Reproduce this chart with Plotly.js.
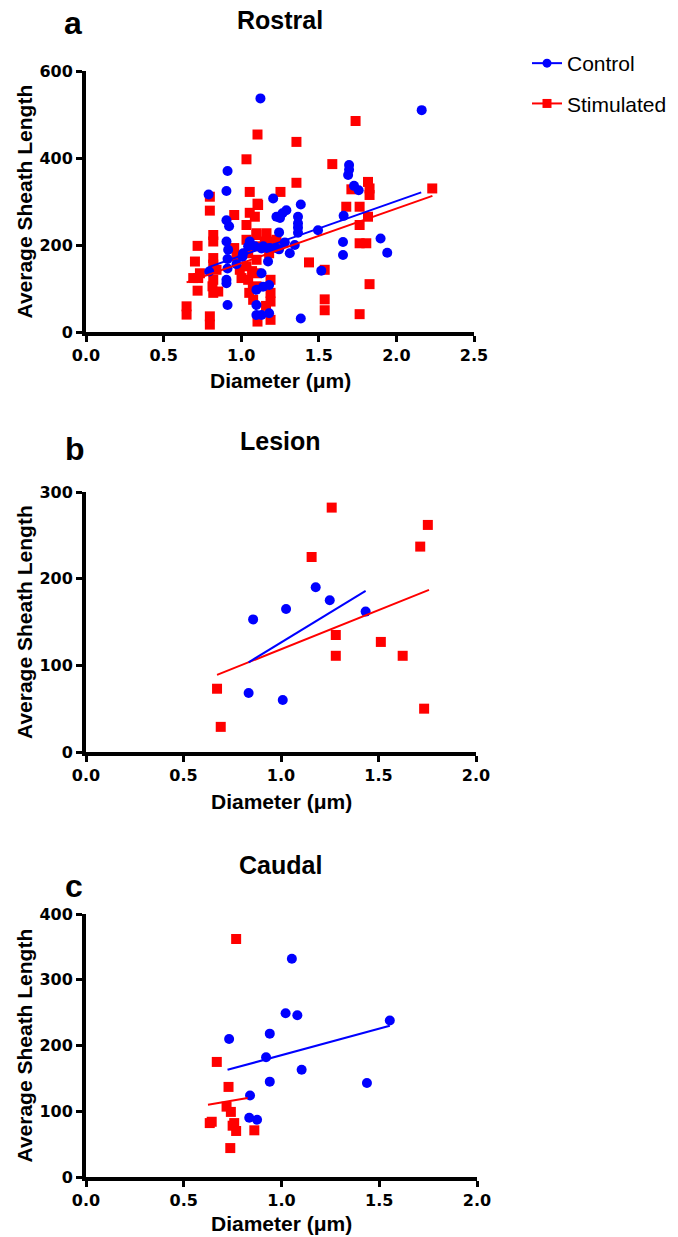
<!DOCTYPE html>
<html>
<head>
<meta charset="utf-8">
<script src="https://cdn.plot.ly/plotly-3.0.1.min.js"></script>
<style>html,body{margin:0;padding:0;background:#fff;}#chart{width:678px;height:1237px;}</style>
</head>
<body>
<div id="chart"></div>
<script>
// ---------- data ----------
var panelLetters = ["a", "b", "c"];
var panelTitles = ["Rostral", "Lesion", "Caudal"];
var seriesNames = ["Control", "Stimulated"];
var xTitle = "Diameter (\u03bcm)";
var yTitle = "Average Sheath Length";

// Rostral
var rostralControlX = [1.124,2.163,0.912,0.790,0.905,1.206,1.384,1.695,1.695,1.689,1.727,1.757,0.905,0.922,1.227,1.266,1.291,1.250,1.366,1.366,1.366,1.366,1.244,1.660,1.495,0.905,0.916,0.912,0.912,0.905,0.905,0.912,0.794,0.970,1.008,1.012,1.055,1.062,1.045,1.088,1.131,1.142,1.173,1.185,1.223,1.244,1.281,1.345,1.313,1.173,1.131,1.098,1.141,1.180,1.098,1.098,1.131,1.180,1.384,1.516,1.656,1.656,1.898,1.941];
var rostralControlY = [537,510,370,316,324,307,293,384,373,361,336,326,257,243,265,273,280,262,265,250,240,228,229,267,234,208,189,168,146,120,112,62,139,156,173,181,208,200,197,197,192,197,192,193,193,190,206,200,181,162,135,97,104,108,62,39,39,43,31,141,207,177,215,182];
var rostralStimX = [1.737,1.105,1.356,1.034,1.587,1.356,1.817,1.827,1.827,2.231,1.710,1.055,1.253,1.105,0.798,0.798,0.955,1.055,1.088,1.109,1.034,1.677,1.763,1.817,1.763,1.763,1.806,0.719,0.820,0.820,0.955,0.702,0.691,0.723,0.734,0.719,0.648,0.648,0.798,0.798,0.820,0.820,0.841,0.820,0.820,0.852,1.437,1.538,1.538,1.538,1.827,1.763,1.034,1.045,1.034,1.045,1.052,1.099,1.120,1.099,1.099,1.099,1.077,1.105,1.180,1.180,1.189,1.189,1.189,1.189,1.227,1.163,0.991,1.002,0.970,1.098,1.152,1.205,1.070,1.075,1.160,0.815];
var rostralStimY = [485,454,437,397,386,343,345,330,315,330,328,322,322,295,311,279,269,274,265,292,246,288,288,265,246,204,204,198,223,208,193,162,124,124,135,95,59,40,36,17,170,155,143,120,90,93,160,143,75,50,110,41,212,181,151,120,90,227,197,166,135,105,74,24,206,181,120,90,70,28,212,227,143,124,174,223,208,208,140,100,60,105];
var rostralControlFitX = [0.79, 2.16];
var rostralControlFitY = [149, 321];
var rostralStimFitX = [0.648, 2.232];
var rostralStimFitY = [114, 313];

// Lesion
var lesionControlX = [0.857,0.834,1.026,1.009,1.178,1.250,1.434];
var lesionControlY = [153,68,165,60,190,175,162];
var lesionStimX = [1.260,1.753,1.714,1.157,1.281,1.281,1.512,1.624,0.672,0.691,1.734];
var lesionStimY = [282,262,237,225,135,111,127,111,73,29,50];
var lesionControlFitX = [0.834, 1.434];
var lesionControlFitY = [103.5, 186];
var lesionStimFitX = [0.672, 1.759];
var lesionStimFitY = [89, 187];

// Caudal
var caudalControlX = [1.053,1.021,1.081,1.554,0.732,0.940,0.921,1.103,0.940,1.437,0.839,0.835,0.875];
var caudalControlY = [332,249,246,238,210,218,182,163,145,143,124,90,87];
var caudalStimX = [0.768,0.669,0.729,0.719,0.741,0.633,0.643,0.758,0.750,0.768,0.861,0.738];
var caudalStimY = [362,175,137,107,99,82,84,82,78,70,71,44];
var caudalControlFitX = [0.724, 1.554];
var caudalControlFitY = [163, 230];
var caudalStimFitX = [0.624, 0.827];
var caudalStimFitY = [110, 120];

// axis ranges / ticks
var xRanges = [[0, 2.5], [0, 2.0], [0, 2.0]];
var yRanges = [[0, 600], [0, 300], [0, 400]];
var yDticks = [200, 100, 100];

// ---------- styling / layout ----------
var W = 678, H = 1237;
function px(x) { return x / W; }
function py(y) { return 1 - y / H; }

var BLUE = "#0000ff", RED = "#ff0000";
var tickFont = {family: "DejaVu Sans", size: 16, color: "#000", weight: "bold"};
var titleFamily = "Liberation Sans, Arial, sans-serif";

var panels = [
  {cx: rostralControlX, cy: rostralControlY, sx: rostralStimX, sy: rostralStimY,
   cfx: rostralControlFitX, cfy: rostralControlFitY, sfx: rostralStimFitX, sfy: rostralStimFitY,
   xd: [86, 474], yd: [332, 71], letterPos: [73, 23], titlePos: [280, 20], xtY: 381},
  {cx: lesionControlX, cy: lesionControlY, sx: lesionStimX, sy: lesionStimY,
   cfx: lesionControlFitX, cfy: lesionControlFitY, sfx: lesionStimFitX, sfy: lesionStimFitY,
   xd: [86, 476], yd: [752, 492], letterPos: [75, 449], titlePos: [280, 441], xtY: 801},
  {cx: caudalControlX, cy: caudalControlY, sx: caudalStimX, sy: caudalStimY,
   cfx: caudalControlFitX, cfy: caudalControlFitY, sfx: caudalStimFitX, sfy: caudalStimFitY,
   xd: [86, 477], yd: [1177, 914], letterPos: [74, 886], titlePos: [280, 865], xtY: 1223}
];

var traces = [];
var layout = {
  width: W, height: H,
  margin: {l: 0, r: 0, t: 0, b: 0},
  paper_bgcolor: "#fff", plot_bgcolor: "rgba(0,0,0,0)",
  showlegend: true,
  legend: {x: px(527), y: py(43), xanchor: "left", yanchor: "top",
           font: {family: titleFamily, size: 21, color: "#000"},
           tracegroupgap: 10, traceorder: "grouped", bgcolor: "rgba(0,0,0,0)"},
  annotations: []
};

panels.forEach(function (p, i) {
  var sfx = i === 0 ? "" : String(i + 1);
  var xa = "x" + sfx, ya = "y" + sfx;
  traces.push({x: p.sx, y: p.sy, xaxis: xa, yaxis: ya, type: "scatter", mode: "markers",
    marker: {symbol: "square", size: 10, color: RED}, showlegend: false, cliponaxis: false, hoverinfo: "skip"});
  traces.push({x: p.cx, y: p.cy, xaxis: xa, yaxis: ya, type: "scatter", mode: "markers",
    marker: {symbol: "circle", size: 10, color: BLUE}, showlegend: false, cliponaxis: false, hoverinfo: "skip"});
  traces.push({x: p.sfx, y: p.sfy, xaxis: xa, yaxis: ya, type: "scatter", mode: "lines",
    line: {color: RED, width: 2}, showlegend: false, cliponaxis: false, hoverinfo: "skip"});
  traces.push({x: p.cfx, y: p.cfy, xaxis: xa, yaxis: ya, type: "scatter", mode: "lines",
    line: {color: BLUE, width: 2}, showlegend: false, cliponaxis: false, hoverinfo: "skip"});

  layout["xaxis" + sfx] = {
    domain: [px(p.xd[0]), px(p.xd[1])], anchor: ya, range: xRanges[i], dtick: 0.5, tick0: 0,
    tickformat: ".1f", showgrid: false, zeroline: false, showline: true, linecolor: "#000", linewidth: 4,
    ticks: "outside", ticklen: 6, tickwidth: 3, tickcolor: "#000", tickfont: tickFont, fixedrange: true
  };
  layout["yaxis" + sfx] = {
    domain: [py(p.yd[0]), py(p.yd[1])], anchor: xa, range: yRanges[i], dtick: yDticks[i], tick0: 0,
    showgrid: false, zeroline: false, showline: true, linecolor: "#000", linewidth: 4,
    ticks: "outside", ticklen: 6, tickwidth: 3, tickcolor: "#000", tickfont: tickFont, fixedrange: true
  };

  layout.annotations.push({text: "<b>" + panelLetters[i] + "</b>", xref: "paper", yref: "paper",
    x: px(p.letterPos[0]), y: py(p.letterPos[1]), xanchor: "center", yanchor: "middle", showarrow: false,
    font: {family: titleFamily, size: 32, color: "#000"}});
  layout.annotations.push({text: "<b>" + panelTitles[i] + "</b>", xref: "paper", yref: "paper",
    x: px(p.titlePos[0]), y: py(p.titlePos[1]), xanchor: "center", yanchor: "middle", showarrow: false,
    font: {family: titleFamily, size: 25, color: "#000"}});
  layout.annotations.push({text: "<b>" + xTitle + "</b>", xref: "paper", yref: "paper",
    x: px((p.xd[0] + p.xd[1]) / 2), y: py(p.xtY), xanchor: "center", yanchor: "middle", showarrow: false,
    font: {family: titleFamily, size: 21, color: "#000"}});
  layout.annotations.push({text: "<b>" + yTitle + "</b>", xref: "paper", yref: "paper", textangle: -90,
    x: px(24), y: py((p.yd[0] + p.yd[1]) / 2), xanchor: "center", yanchor: "middle", showarrow: false,
    font: {family: titleFamily, size: 21, color: "#000"}});
});

// legend-only entries (line + marker symbol, as in the reference legend)
traces.push({x: [null], y: [null], type: "scatter", mode: "lines+markers", name: seriesNames[0],
  legendgroup: "g1", line: {color: BLUE, width: 2}, marker: {symbol: "circle", size: 9, color: BLUE}});
traces.push({x: [null], y: [null], type: "scatter", mode: "lines+markers", name: seriesNames[1],
  legendgroup: "g2", line: {color: RED, width: 2}, marker: {symbol: "square", size: 9, color: RED}});

Plotly.newPlot("chart", traces, layout, {staticPlot: true, displayModeBar: false});
</script>
</body>
</html>
